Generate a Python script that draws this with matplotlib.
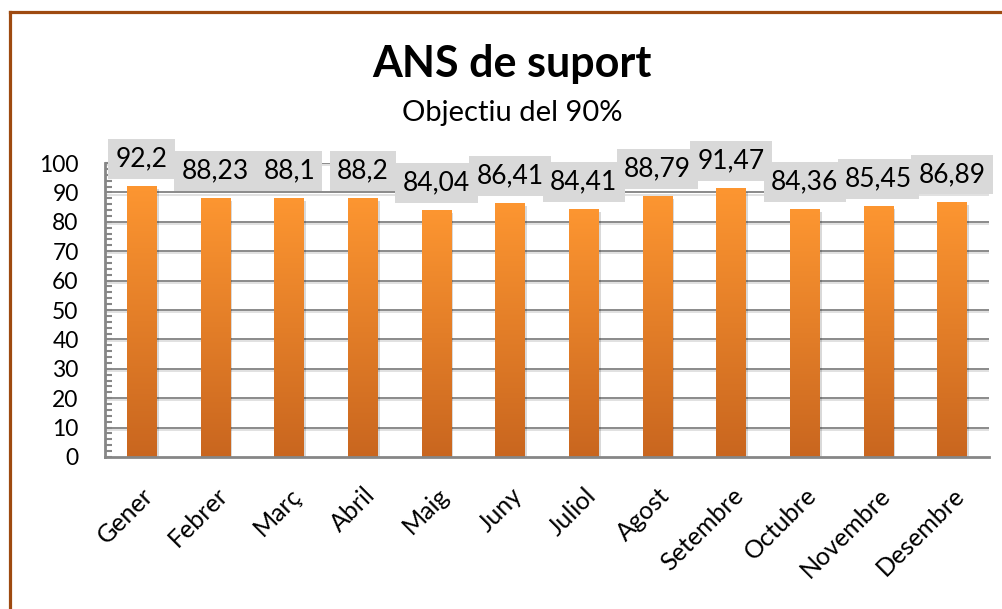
import numpy
from matplotlib import pyplot as plt
from matplotlib import patheffects
from matplotlib.lines import Line2D
from matplotlib.transforms import ScaledTranslation

months = ["Gener", "Febrer", "Març", "Abril", "Maig", "Juny",
          "Juliol", "Agost", "Setembre", "Octubre", "Novembre", "Desembre"]
values = [92.2, 88.23, 88.1, 88.2, 84.04, 86.41,
          84.41, 88.79, 91.47, 84.36, 85.45, 86.89]
y_ticks = [0, 10, 20, 30, 40, 50, 60, 70, 80, 90, 100]

plt.rcParams["font.family"] = ["Lato", "DejaVu Sans"]

fig = plt.figure(figsize=(10.03, 6.09), dpi=100)
ax = fig.add_axes([0.1047, 0.2496, 0.8813, 0.4827])

x = numpy.arange(len(months))

# gridlines with a little shadow
for t in y_ticks[1:]:
    ax.axhline(t, color="#8a8a8a", lw=1.4, zorder=1,
               path_effects=[patheffects.SimpleLineShadow(offset=(0, -1.5), shadow_color="#000000", alpha=0.12),
                             patheffects.Normal()])

# bars, filled with a vertical gradient
bars = ax.bar(x, values, width=0.4, color="#f08a2a", zorder=2,
              path_effects=[patheffects.SimplePatchShadow(offset=(1.5, -2.5), shadow_rgbFace="#000000", alpha=0.15),
                            patheffects.Normal()])
grad = numpy.linspace(0, 1, 256).reshape(-1, 1)
cmap = plt.matplotlib.colors.LinearSegmentedColormap.from_list("o", ["#c9661f", "#fd9631"])
for b in bars:
    im = ax.imshow(grad, cmap=cmap, aspect="auto", origin="lower", zorder=3,
                   extent=(b.get_x(), b.get_x() + b.get_width(), 0, b.get_height()))
    im.set_clip_path(b)

# value labels
for xi, v in zip(x, values):
    ax.annotate(f"{v:g}".replace(".", ","), (xi, v), xytext=(0, 14.5), textcoords="offset pixels",
                ha="center", va="bottom", fontsize=19, annotation_clip=False, zorder=5,
                bbox=dict(boxstyle="square,pad=0.28", fc="#d9d9d9", ec="none"))

ax.set_xlim(-0.5, len(months) - 0.5)
ax.set_ylim(0, 100)
ax.set_yticks(y_ticks)
ax.set_yticks(numpy.arange(0, 101, 2), minor=True)
ax.set_xticks(x)
ax.set_xticklabels(months, rotation=45, ha="right", rotation_mode="anchor", fontsize=18)
for lbl in ax.get_xticklabels():
    lbl.set_transform(lbl.get_transform() + ScaledTranslation(-0.05, 0, fig.dpi_scale_trans))

for s in ["top", "right"]:
    ax.spines[s].set_visible(False)
for s in ["left", "bottom"]:
    ax.spines[s].set_color("#868686")
    ax.spines[s].set_linewidth(2)
    ax.spines[s].set_zorder(4)
ax.tick_params(axis="y", which="both", direction="in", length=5, width=1.5, color="#868686", labelsize=16.5, pad=19)
ax.tick_params(axis="x", length=0, pad=19)

fig.text(0.5105, 0.8736, "ANS de suport", ha="center", va="baseline", fontsize=31, fontweight="bold")
fig.text(0.5105, 0.8015, "Objectiu del 90%", ha="center", va="baseline", fontsize=21)

# brown frame
fig.add_artist(Line2D([0.0095, 1.0], [0.9795, 0.9795], color="#9e4a10", lw=2.3))
fig.add_artist(Line2D([0.0095, 0.0095], [0.0, 0.9795], color="#9e4a10", lw=2.3))

fig.savefig("out.png", dpi=100)
